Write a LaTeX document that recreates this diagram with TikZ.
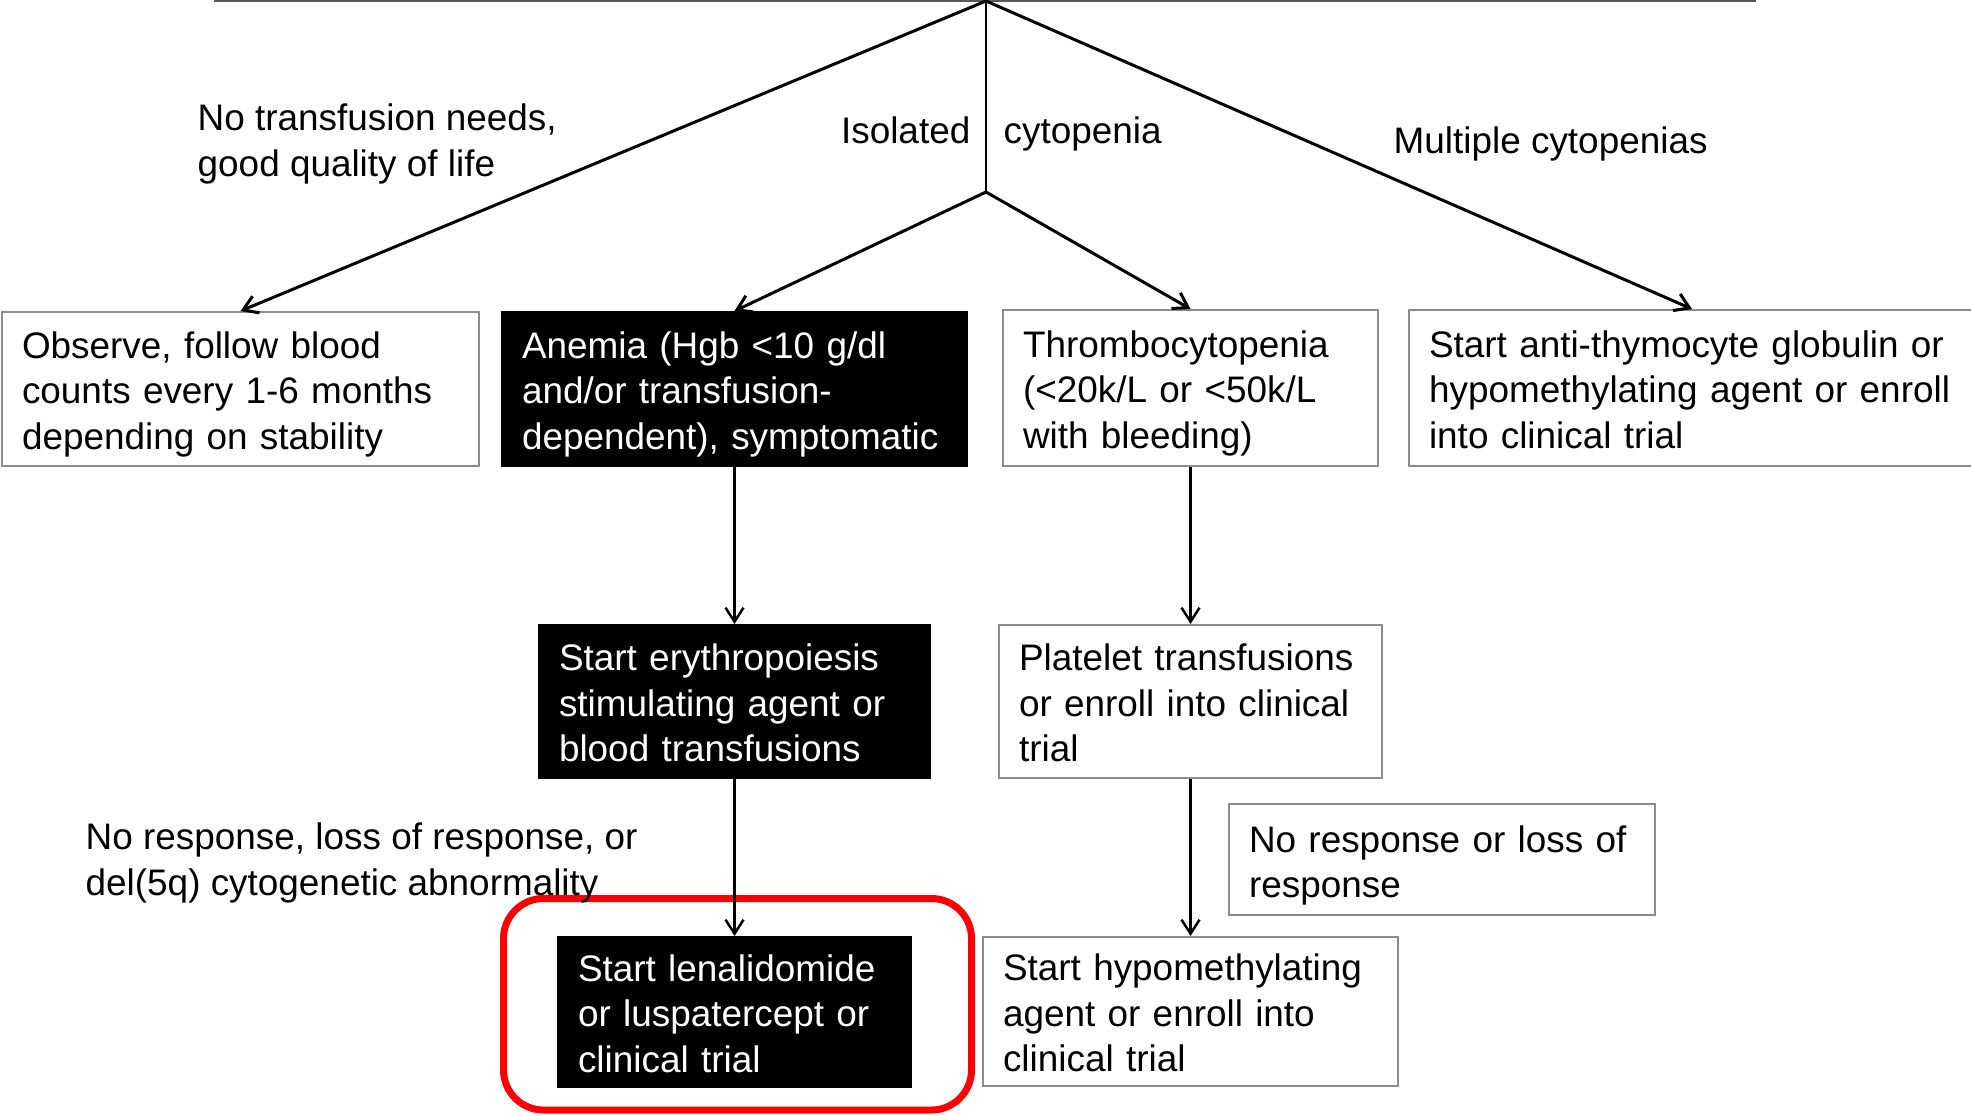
\documentclass[tikz,border=0pt]{standalone}
\usepackage{fontspec}
\setmainfont{Liberation Sans}
\usetikzlibrary{arrows.meta}

\begin{document}
\begin{tikzpicture}[x=0.1mm,y=-0.1mm,
	every node/.style={font=\fontsize{10.5pt}{13pt}\selectfont},
	box/.style={draw=gray!90, line width=0.2mm, fill=white, align=left,
		inner xsep=2mm, inner ysep=0pt, text height=10.6pt, text depth=28.2pt},
	twoline/.style={text depth=14.8pt},
	darkbox/.style={box, draw=black, fill=black, text=white},
	lbl/.style={inner sep=0pt, align=left, anchor=base west},
	arr/.style={line width=0.3mm, -{Straight Barb[length=1.4mm,width=1.8mm]}},
	varr/.style={line width=0.25mm, -{Straight Barb[length=1.4mm,width=1.8mm]}}]
	\useasboundingbox (0,0) rectangle (1971,1115);

	\coordinate (top) at (986,1);
	\coordinate (split) at (986,192);
	\draw[gray!70!black, line width=0.2mm] (214,1) -- (1756,1);

	% first row
	\node[box, text width=43.7mm, minimum height=15.4mm] (obs) at (240.5,389)
	    {Observe, follow blood\\counts every 1-6 months\\depending on stability};
	\node[darkbox, text width=42.5mm, minimum height=15.4mm] (anemia) at (734.5,389)
	    {Anemia (Hgb <10 g/dl\\and/or transfusion-\\dependent), symptomatic};
	\node[box, text width=33.5mm, minimum height=15.6mm] (thromb) at (1190.5,388)
	    {Thrombocytopenia\\(<20k/L or <50k/L\\with bleeding)};
	\node[box, text width=52.6mm, minimum height=15.6mm] (anti) at (1692,388)
	    {Start anti-thymocyte globulin or\\hypomethylating agent or enroll\\into clinical trial};

	% second row
	\node[darkbox, text width=35.1mm, minimum height=15.3mm] (epo) at (734.5,701.5)
	    {Start erythropoiesis\\stimulating agent or\\blood transfusions};
	\node[box, text width=34.3mm, minimum height=15.3mm] (plt) at (1190.5,701.5)
	    {Platelet transfusions\\or enroll into clinical\\trial};
	\node[box, twoline, text width=38.6mm, minimum height=11.1mm] (noresp) at (1442,859.5)
	    {No response or loss of\\response};

	% third row
	\node[darkbox, text width=31.3mm, minimum height=15mm] (len) at (734.5,1012)
	    {Start lenalidomide\\or luspatercept or\\clinical trial};
	\node[box, text width=37.5mm, minimum height=14.9mm] (hma) at (1190.5,1011.5)
	    {Start hypomethylating\\agent or enroll into\\clinical trial};
	\draw[red, line width=0.7mm, rounded corners=4mm] (503.5,898.5) rectangle (971.5,1110);

	% labels
	\node[lbl] (notx) at (197,176) {No transfusion needs,\\good quality of life};
	\node[lbl, anchor=base east] (iso) at (971,143) {Isolated};
	\node[lbl] (cyto) at (1003,143) {cytopenia};
	\node[lbl] (multi) at (1393,153) {Multiple cytopenias};
	\node[lbl] (nresp) at (85,895) {No response, loss of response, or\\del(5q) cytogenetic abnormality};

	\draw[line width=0.27mm] (top) -- (split);
	\foreach \b in {obs,anti}
	    \draw[arr] (top) -- (\b.north);
	\foreach \b in {anemia,thromb}
	    \draw[arr] (split) -- (\b.north);
	\foreach \a/\b in {anemia/epo,thromb/plt,epo/len,plt/hma}
	    \draw[varr] (\a.south) -- (\b.north);
\end{tikzpicture}
\end{document}
